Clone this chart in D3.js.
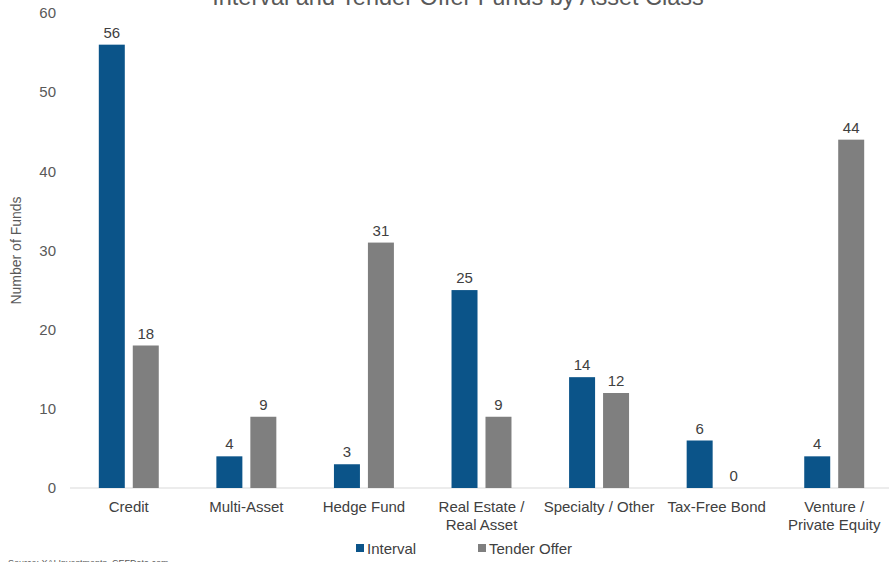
<!DOCTYPE html>
<html>
<head>
<meta charset="utf-8">
<script src="https://cdn.jsdelivr.net/npm/d3@7"></script>
<style>
  body { margin: 0; background: #fff; }
  svg { display: block; font-family: Arial, "Liberation Sans", sans-serif; }
</style>
</head>
<body>
<div id="chart"></div>
<script>
// data
const categories = ['Credit', 'Multi-Asset', 'Hedge Fund', 'Real Estate /\nReal Asset', 'Specialty / Other', 'Tax-Free Bond', 'Venture /\nPrivate Equity'];
const series = ['Interval', 'Tender Offer'];
const interval = [56, 4, 3, 25, 14, 6, 4];
const tenderOffer = [18, 9, 31, 9, 12, 0, 44];
const yTicks = [0, 10, 20, 30, 40, 50, 60];

const values = { 'Interval': interval, 'Tender Offer': tenderOffer };
const color = d3.scaleOrdinal(series, ['#0b5489', '#7f7f7f']);

// general settings
const width = 889, height = 562;
const margin = { top: 13, right: -4, bottom: 74, left: 70 };

const svg = d3.select('#chart').append('svg')
    .attr('width', width)
    .attr('height', height);

const x0 = d3.scaleBand()
    .domain(categories)
    .range([margin.left, width - margin.right])
    .paddingInner(0.49)
    .paddingOuter(0.245);

const x1 = d3.scaleBand()
    .domain(series)
    .range([0, x0.bandwidth()])
    .paddingInner(0.235);

const y = d3.scaleLinear()
    .domain([0, 60])
    .range([height - margin.bottom, margin.top]);

// title (cut off at the top like the original)
svg.append('text')
    .attr('x', 458)
    .attr('y', 5)
    .attr('text-anchor', 'middle')
    .attr('fill', '#595959')
    .style('font-size', '23.5px')
    .text('Interval and Tender Offer Funds by Asset Class');

// y axis
const yAxis = svg.append('g')
    .attr('transform', `translate(${margin.left},0)`)
    .call(d3.axisLeft(y).tickValues(yTicks).tickSize(0).tickPadding(14));
yAxis.select('.domain').remove();
yAxis.selectAll('text')
    .attr('fill', '#595959')
    .style('font-size', '15px');

svg.append('text')
    .attr('transform', `translate(21,${(y(0) + y(60)) / 2}) rotate(-90)`)
    .attr('text-anchor', 'middle')
    .attr('fill', '#595959')
    .style('font-size', '14px')
    .text('Number of Funds');

// baseline
svg.append('line')
    .attr('x1', margin.left)
    .attr('x2', width)
    .attr('y1', y(0))
    .attr('y2', y(0))
    .attr('stroke', '#d9d9d9')
    .attr('stroke-width', 1);

// bars
const group = svg.selectAll('g.cat')
    .data(categories)
    .join('g')
    .attr('class', 'cat')
    .attr('transform', d => `translate(${x0(d)},0)`);

group.selectAll('rect')
    .data((d, i) => series.map(s => ({ key: s, value: values[s][i] })))
    .join('rect')
    .attr('x', d => x1(d.key))
    .attr('y', d => y(d.value))
    .attr('width', x1.bandwidth())
    .attr('height', d => y(0) - y(d.value))
    .attr('fill', d => color(d.key));

group.selectAll('text.val')
    .data((d, i) => series.map(s => ({ key: s, value: values[s][i] })))
    .join('text')
    .attr('class', 'val')
    .attr('x', d => x1(d.key) + x1.bandwidth() / 2)
    .attr('y', d => y(d.value) - 7)
    .attr('text-anchor', 'middle')
    .attr('fill', '#404040')
    .style('font-size', '15px')
    .text(d => d.value);

// category labels
const catLabel = svg.selectAll('text.cat-label')
    .data(categories)
    .join('text')
    .attr('class', 'cat-label')
    .attr('text-anchor', 'middle')
    .attr('fill', '#404040')
    .style('font-size', '15px')
    .attr('x', d => x0(d) + x0.bandwidth() / 2)
    .attr('y', y(0) + 24);

catLabel.selectAll('tspan')
    .data(d => d.split('\n'))
    .join('tspan')
    .attr('x', function() { return this.parentNode.getAttribute('x'); })
    .attr('dy', (d, i) => i === 0 ? 0 : 18)
    .text(d => d);

// legend
const legendX = [356, 478];
const legend = svg.selectAll('g.legend')
    .data(series)
    .join('g')
    .attr('class', 'legend')
    .attr('transform', (d, i) => `translate(${legendX[i]},549)`);

legend.append('rect')
    .attr('x', 0)
    .attr('y', -5)
    .attr('width', 8)
    .attr('height', 8)
    .attr('fill', d => color(d));

legend.append('text')
    .attr('x', 11)
    .attr('y', 5)
    .attr('fill', '#404040')
    .style('font-size', '15px')
    .text(d => d);

// source note (mostly cropped in the original)
svg.append('text')
    .attr('x', 8)
    .attr('y', 566)
    .attr('fill', '#595959')
    .style('font-size', '9px')
    .text('Source: XAI Investments, CEFData.com');
</script>
</body>
</html>
